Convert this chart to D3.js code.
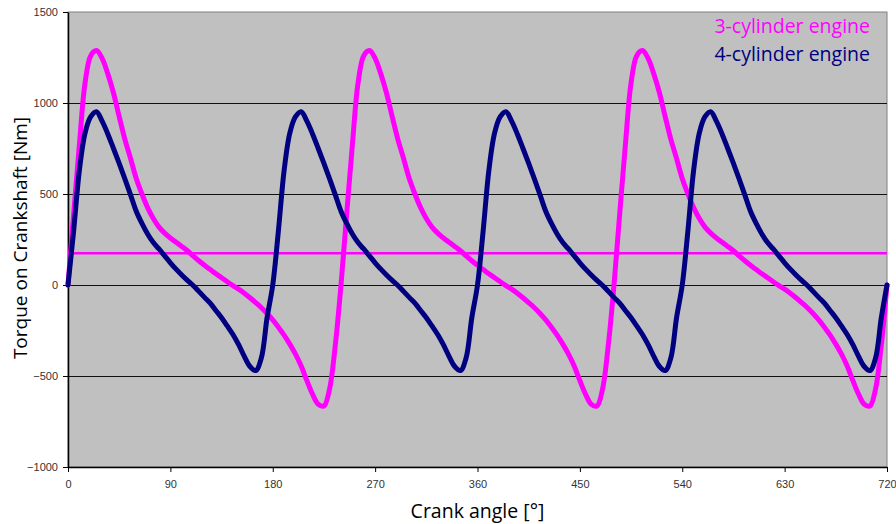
<!DOCTYPE html>
<html>
<head>
<meta charset="utf-8">
<script src="https://cdn.jsdelivr.net/npm/d3@7"></script>
<style>
  body { margin: 0; background: #fff; }
</style>
</head>
<body>
<div id="chart-container"></div>
<script>
// crank angle samples, every 5 degrees from 0 to 720
const angles = d3.range(0, 725, 5);

// torque [Nm], one value per angle
const torque3cyl = [
  0, 390, 770, 1110, 1260, 1288, 1245, 1160, 1055, 925, 800, 695, 585, 500, 425, 365, 318, 285, 258, 235, 212, 188, 160, 133,
  108, 85, 62, 40, 18, -3, -23, -45, -70, -97, -125, -157, -192, -232, -275, -325, -380, -445, -525, -600, -655, -665, -570, -330,
  0, 390, 770, 1110, 1260, 1288, 1245, 1160, 1055, 925, 800, 695, 585, 500, 425, 365, 318, 285, 258, 235, 212, 188, 160, 133,
  108, 85, 62, 40, 18, -3, -23, -45, -70, -97, -125, -157, -192, -232, -275, -325, -380, -445, -525, -600, -655, -665, -570, -330,
  0, 390, 770, 1110, 1260, 1288, 1245, 1160, 1055, 925, 800, 695, 585, 500, 425, 365, 318, 285, 258, 235, 212, 188, 160, 133,
  108, 85, 62, 40, 18, -3, -23, -45, -70, -97, -125, -157, -192, -232, -275, -325, -380, -445, -525, -600, -655, -665, -570, -330,
  0
];

const torque4cyl = [
  0, 300, 630, 835, 925, 952, 900, 830, 750, 668, 583, 495, 405, 338, 280, 233, 198, 160,
  122, 87, 55, 25, -3, -35, -68, -100, -140, -180, -225, -272, -328, -392, -448, -470, -400, -180,
  0, 300, 630, 835, 925, 952, 900, 830, 750, 668, 583, 495, 405, 338, 280, 233, 198, 160,
  122, 87, 55, 25, -3, -35, -68, -100, -140, -180, -225, -272, -328, -392, -448, -470, -400, -180,
  0, 300, 630, 835, 925, 952, 900, 830, 750, 668, 583, 495, 405, 338, 280, 233, 198, 160,
  122, 87, 55, 25, -3, -35, -68, -100, -140, -180, -225, -272, -328, -392, -448, -470, -400, -180,
  0, 300, 630, 835, 925, 952, 900, 830, 750, 668, 583, 495, 405, 338, 280, 233, 198, 160,
  122, 87, 55, 25, -3, -35, -68, -100, -140, -180, -225, -272, -328, -392, -448, -470, -400, -180,
  0
];

const meanTorque = 175;

const xTicks = [0, 90, 180, 270, 360, 450, 540, 630, 720];
const yTicks = [-1000, -500, 0, 500, 1000, 1500];
const gridValues = [-500, 0, 500, 1000];

const seriesNames = ["3-cylinder engine", "4-cylinder engine"];
const seriesColors = ["#ff00ff", "#000080"];

(function () {
    const margin = { top: 12, right: 9, bottom: 57, left: 68 };
    const totalW = 896, totalH = 524;
    const width = totalW - margin.left - margin.right;
    const height = totalH - margin.top - margin.bottom;

    const x = d3.scaleLinear().domain([0, 720]).range([0, width]);
    const y = d3.scaleLinear().domain([-1000, 1500]).range([height, 0]);

    const svgRoot = d3.select("#chart-container")
        .append("svg")
        .attr("width", totalW)
        .attr("height", totalH);

    const svg = svgRoot.append("g")
        .attr("transform", `translate(${margin.left},${margin.top})`);

    // plot area
    svg.append("rect")
        .attr("width", width)
        .attr("height", height)
        .attr("fill", "#c0c0c0")
        .attr("stroke", "#808080")
        .attr("stroke-width", 1);

    // gridlines
    svg.selectAll(".grid")
        .data(gridValues)
        .join("line")
        .attr("class", "grid")
        .attr("x1", 0)
        .attr("x2", width)
        .attr("y1", d => Math.round(y(d)) + 0.5)
        .attr("y2", d => Math.round(y(d)) + 0.5)
        .attr("stroke", "#111")
        .attr("stroke-width", 1);

    // axes
    const xAxis = svg.append("g")
        .attr("transform", `translate(0,${height})`)
        .call(d3.axisBottom(x).tickValues(xTicks).tickFormat(d3.format("d"))
            .tickSize(5).tickSizeOuter(0).tickPadding(8));
    const yAxis = svg.append("g")
        .call(d3.axisLeft(y).tickValues(yTicks).tickFormat(d3.format("d"))
            .tickSize(5).tickSizeOuter(0).tickPadding(5));

    [xAxis, yAxis].forEach(g => {
        g.select(".domain").attr("stroke", "#000").attr("stroke-width", 1.5);
        g.selectAll(".tick line").attr("stroke", "#000");
        g.selectAll("text")
            .attr("fill", "#333")
            .style("font-family", "'Liberation Sans', Arial, sans-serif")
            .style("font-size", "11px");
    });

    // mean torque line
    svg.append("line")
        .attr("x1", 0)
        .attr("x2", width)
        .attr("y1", y(meanTorque))
        .attr("y2", y(meanTorque))
        .attr("stroke", seriesColors[0])
        .attr("stroke-width", 2.5);

    const line = d3.line()
        .x((d, i) => x(angles[i]))
        .y(d => y(d))
        .curve(d3.curveCatmullRom);

    [torque3cyl, torque4cyl].forEach((series, k) => {
        svg.append("path")
            .datum(series)
            .attr("fill", "none")
            .attr("stroke", seriesColors[k])
            .attr("stroke-width", 5)
            .attr("stroke-linejoin", "round")
            .attr("stroke-linecap", "round")
            .attr("d", line);
    });

    // legend
    svgRoot.selectAll(".legend")
        .data(seriesNames)
        .join("text")
        .attr("class", "legend")
        .attr("x", 870)
        .attr("y", (d, i) => 33 + i * 28)
        .attr("text-anchor", "end")
        .attr("fill", (d, i) => seriesColors[i])
        .style("font-family", "'Open Sans', sans-serif")
        .style("font-size", "19.5px")
        .text(d => d);

    // axis titles
    svgRoot.append("text")
        .attr("x", margin.left + width / 2)
        .attr("y", 518)
        .attr("text-anchor", "middle")
        .attr("fill", "#000")
        .style("font-family", "'Open Sans', sans-serif")
        .style("font-size", "19.5px")
        .text("Crank angle [°]");

    svgRoot.append("text")
        .attr("transform", `translate(27,${margin.top + 226}) rotate(-90)`)
        .attr("text-anchor", "middle")
        .attr("fill", "#000")
        .style("font-family", "'Open Sans', sans-serif")
        .style("font-size", "19px")
        .text("Torque on Crankshaft [Nm]");
})();
</script>
</body>
</html>
